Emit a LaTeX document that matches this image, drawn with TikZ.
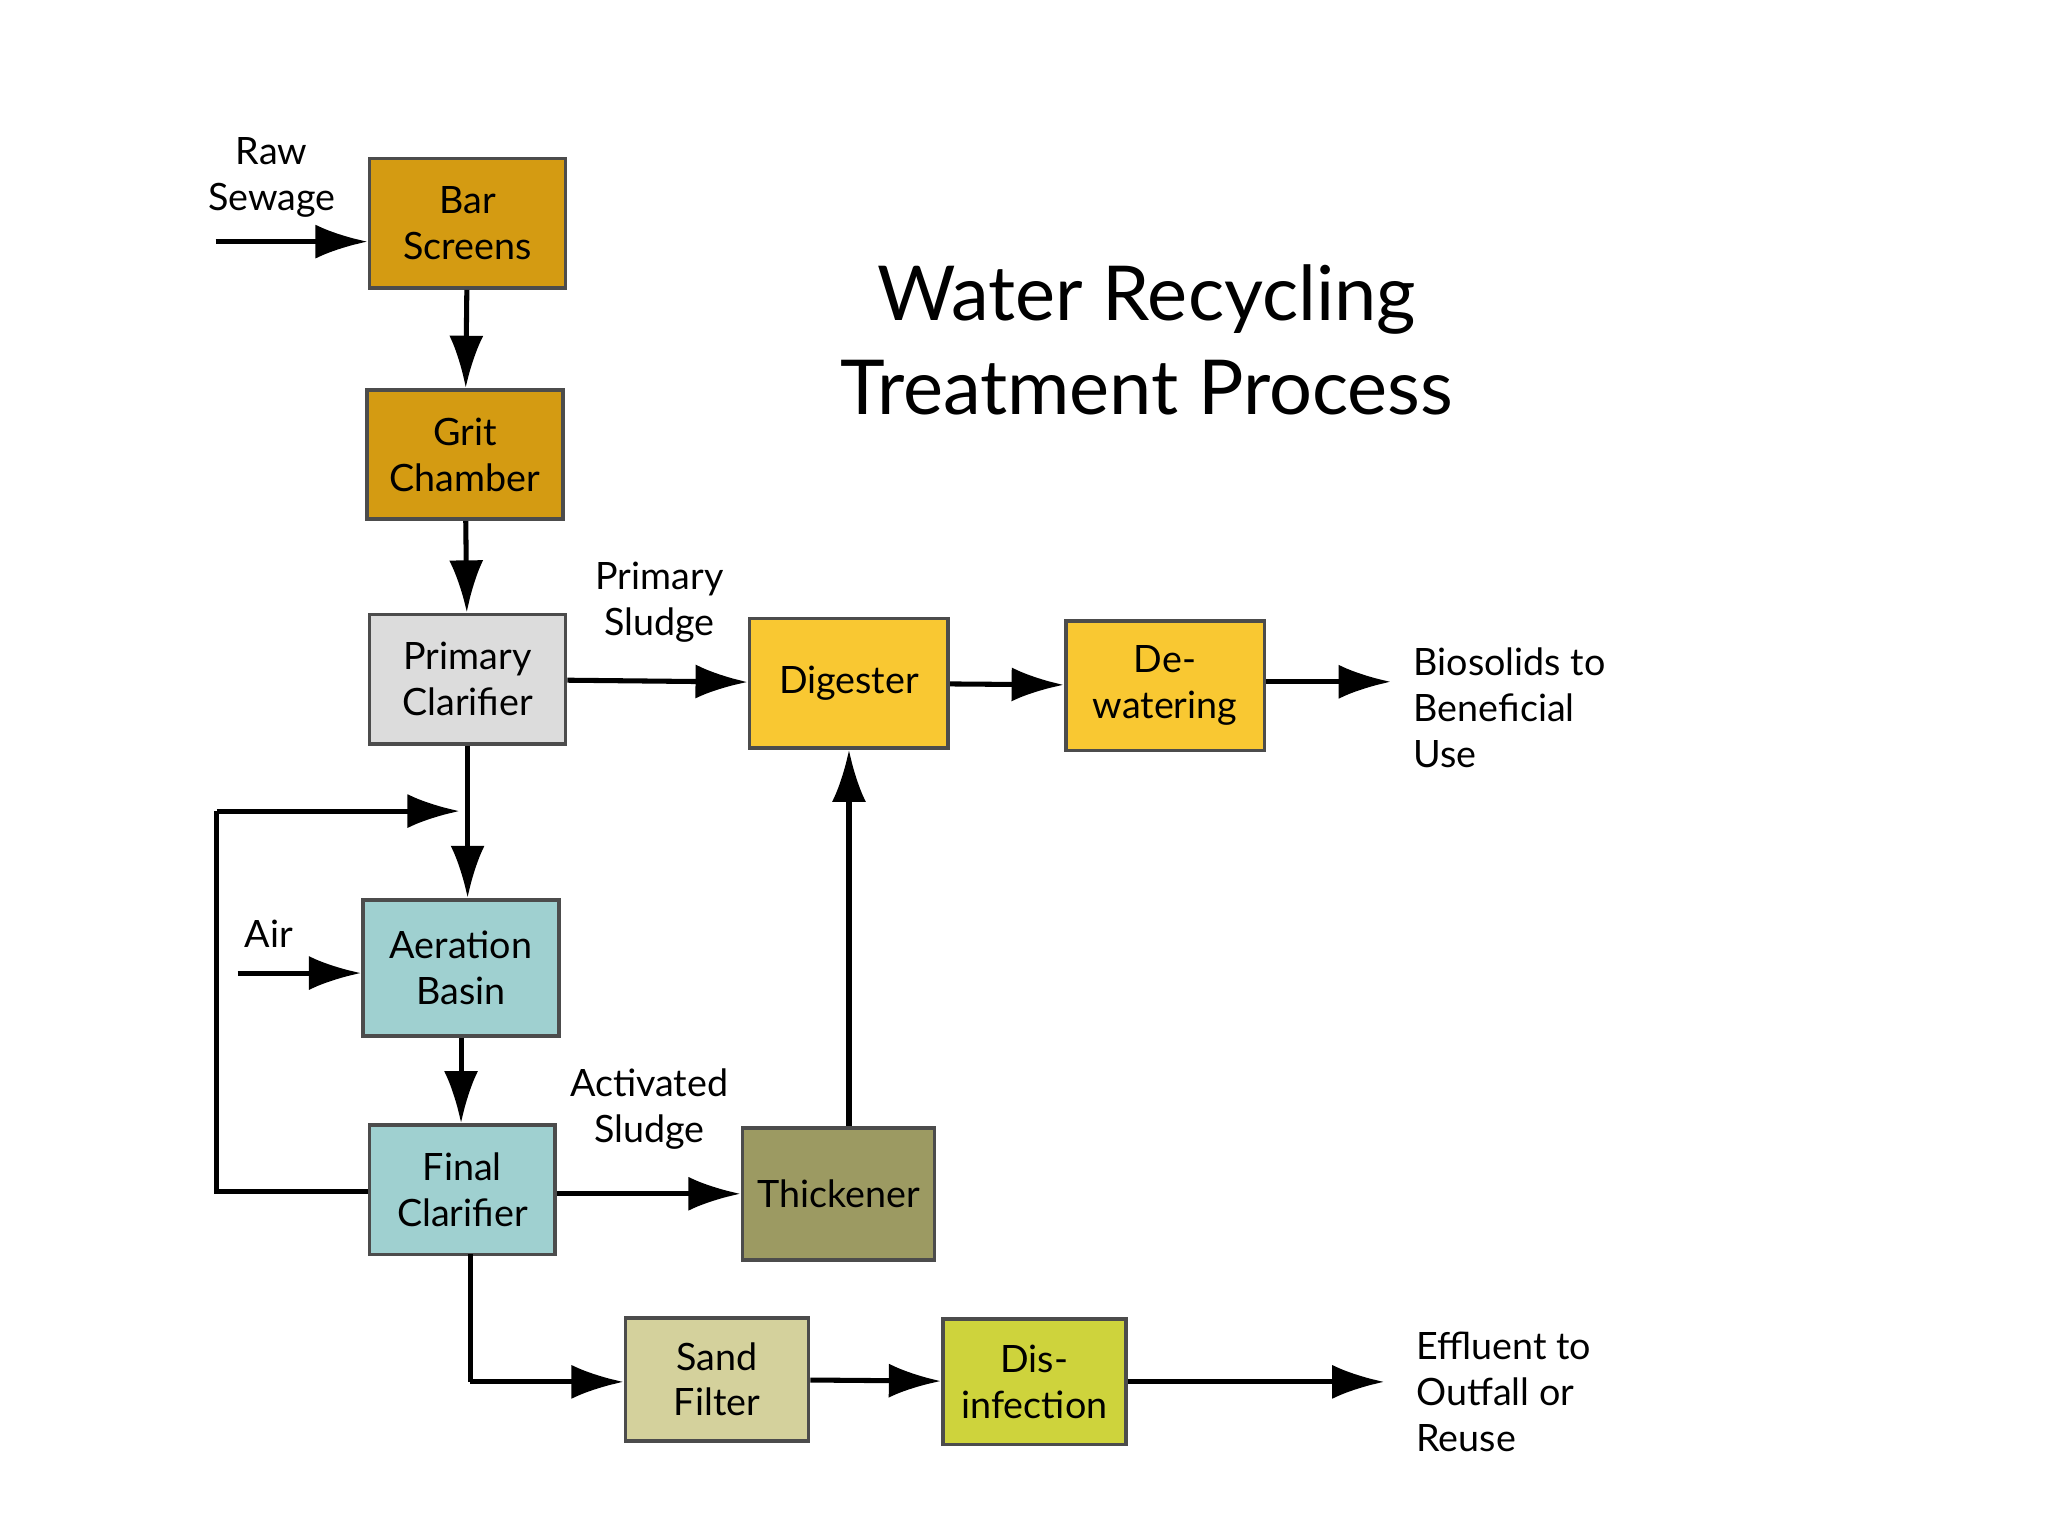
\documentclass[tikz,border=0pt]{standalone}
\usepackage{fontspec}
\setmainfont{Lato}
\usetikzlibrary{arrows.meta}
\definecolor{gold}{HTML}{D49B12}
\definecolor{lgray}{HTML}{DCDCDC}
\definecolor{yel}{HTML}{F9C832}
\definecolor{teal}{HTML}{9FD0D0}
\definecolor{olive}{HTML}{9C9A62}
\definecolor{sand}{HTML}{D4D19C}
\definecolor{lime}{HTML}{CED33C}
\begin{document}
\begin{tikzpicture}[x=0.01cm,y=-0.01cm,
  box/.style={draw=black!70,line width=0.8pt,minimum width=1.5cm,minimum height=0.99cm,align=center,font=\fontsize{8.2}{10}\selectfont,inner sep=1pt},
  lbl/.style={align=center,font=\fontsize{8.2}{10}\selectfont},
  arr/.style={line width=1.1pt,-{Latex[length=4mm,width=2.6mm]}},
  ln/.style={line width=1.1pt}]
\useasboundingbox (0,0) rectangle (1568,1176);
\fill[white] (0,0) rectangle (1568,1176);
\node[font=\fontsize{16.5}{20.5}\selectfont,align=center] (title) at (878,260) {Water Recycling\\Treatment Process};
\node[box,fill=gold] (bar) at (358,171) {Bar\\Screens};
\node[box,fill=gold] (grit) at (356,348) {Grit\\Chamber};
\node[box,fill=lgray] (pc) at (358,520) {Primary\\Clarifier};
\node[box,fill=yel,minimum width=1.52cm] (dig) at (650,523) {Digester};
\node[box,fill=yel,minimum width=1.52cm] (dew) at (892,525) {De-\\watering};
\node[box,fill=teal,minimum height=1.04cm] (aer) at (353,741) {Aeration\\Basin};
\node[box,fill=teal,minimum width=1.42cm] (fc) at (354,911) {Final\\Clarifier};
\node[box,fill=olive,minimum width=1.47cm,minimum height=1.01cm] (thk) at (642,914) {Thickener};
\node[box,fill=sand,minimum width=1.4cm,minimum height=0.94cm] (sand) at (549,1056) {Sand\\Filter};
\node[box,fill=lime,minimum width=1.4cm,minimum height=0.96cm] (dis) at (792,1058) {Dis-\\infection};
\coordinate (raw) at (165,185);
\coordinate (air) at (182,745);
\coordinate (bio) at (1065,522);
\coordinate (eff) at (1060,1058);
\coordinate (l1) at (166,912);
\coordinate (l2) at (166,621);
\coordinate (l3) at (352,621);
\coordinate (fb) at (360,960);
\coordinate (fcorner) at (360,1058);
\node[lbl] (rawl) at (208,136) {Raw\\Sewage};
\node[lbl] (airl) at (206,715) {Air};
\node[lbl] (psl) at (505,461) {Primary\\Sludge};
\node[lbl] (asl) at (497,849) {Activated\\Sludge};
\node[lbl,align=left,anchor=west] (biol) at (1070,542) {Biosolids to\\Beneficial\\Use};
\node[lbl,align=left,anchor=west] (effl) at (1072,1066) {Effluent to\\Outfall or\\Reuse};
\draw[arr] (raw) -- (raw -| bar.west);
\draw[arr] (bar) -- (grit);
\draw[arr] (grit) -- (pc);
\draw[arr] (pc) -- (pc |- aer.north);
\draw[arr] (pc) -- (dig);
\draw[arr] (dig) -- (dew);
\draw[arr] (dew.east |- bio) -- (bio);
\draw[arr] (air) -- (air -| aer.west);
\draw[arr] (aer) -- (aer |- fc.north);
\draw[arr] (fc.east |- thk) -- (thk);
\draw[arr] (thk.north -| dig) -- (dig.south);
\draw[ln] (fc.west |- l1) -- (l1) -- (l2);
\draw[arr] (l2) -- (l3);
\draw[ln] (fb) -- (fcorner);
\draw[arr] (fcorner) -- (fcorner -| sand.west);
\draw[arr] (sand) -- (dis);
\draw[arr] (dis) -- (eff);
\end{tikzpicture}
\end{document}
